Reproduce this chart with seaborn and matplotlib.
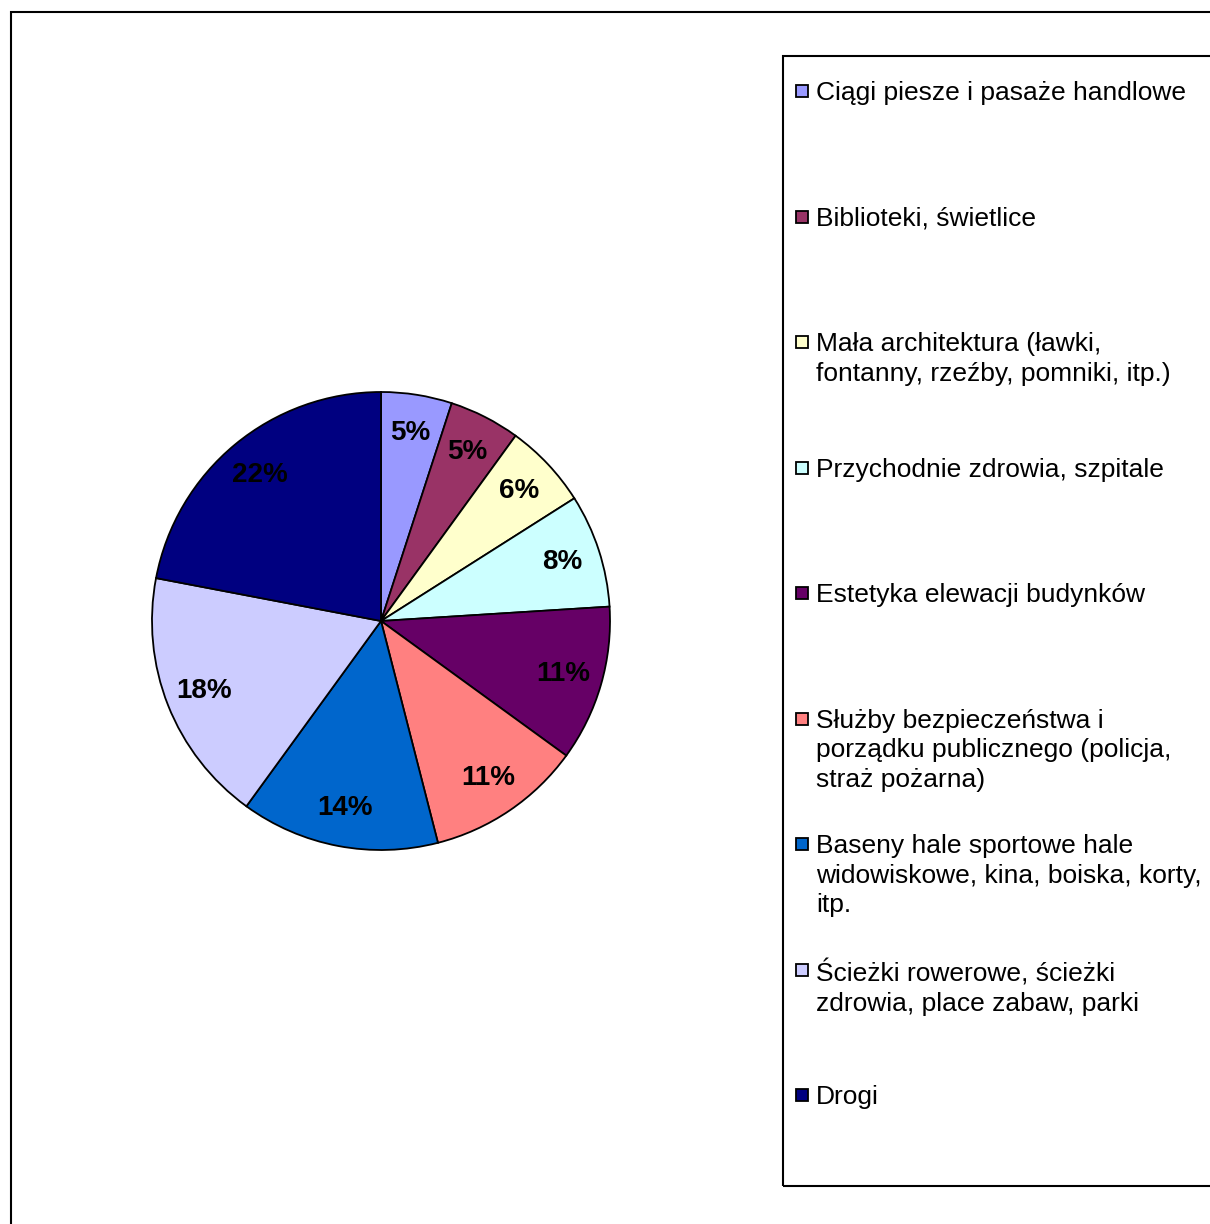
import matplotlib
matplotlib.use("Agg")
import matplotlib.pyplot as plt
from matplotlib.patches import Rectangle
import seaborn as sns

categories = [
    "Ciągi piesze i pasaże handlowe",
    "Biblioteki, świetlice",
    "Mała architektura (ławki,\nfontanny, rzeźby, pomniki, itp.)",
    "Przychodnie zdrowia, szpitale",
    "Estetyka elewacji budynków",
    "Służby bezpieczeństwa i\nporządku publicznego (policja,\nstraż pożarna)",
    "Baseny hale sportowe hale\nwidowiskowe, kina, boiska, korty,\nitp.",
    "Ścieżki rowerowe, ścieżki\nzdrowia, place zabaw, parki",
    "Drogi",
]
shares = [5, 5, 6, 8, 11, 11, 14, 18, 22]
colors = ["#9999FF", "#993366", "#FFFFCC", "#CCFFFF", "#660066",
          "#FF8080", "#0066CC", "#CCCCFF", "#000080"]

sns.set_theme(style="white")
plt.rcParams["font.family"] = ["Liberation Sans", "DejaVu Sans"]

W, H = 1210, 1224
fig = plt.figure(figsize=(W / 100, H / 100), dpi=100)
fig.patch.set_facecolor("white")

def fx(px):
    return px / W

def fy(py):
    return 1 - py / H

# pie axes: centre (381, 621), radius ~229 px
cx, cy, r = 381, 621, 229
ax = fig.add_axes([fx(cx - r), fy(cy + r), 2 * r / W, 2 * r / H])
wedges, _, autotexts = ax.pie(
    shares,
    colors=colors,
    startangle=90,
    counterclock=False,
    radius=1,
    autopct=lambda p: f"{p:.0f}%",
    pctdistance=0.83,
    wedgeprops=dict(edgecolor="black", linewidth=1.3, clip_on=False),
    textprops=dict(fontsize=20, fontweight="bold", color="black"),
)
ax.set_xlim(-1, 1)
ax.set_ylim(-1, 1)
ax.set_aspect("equal")
ax.axis("off")

# outer chart frame
fig.add_artist(Rectangle((fx(11), fy(1300)), fx(1300), (1300 - 12) / H,
                         transform=fig.transFigure, fill=False,
                         edgecolor="black", linewidth=1.5, clip_on=False))

# legend frame
fig.add_artist(Rectangle((fx(783), fy(1186)), fx(600), (1186 - 56) / H,
                         transform=fig.transFigure, fill=False,
                         edgecolor="black", linewidth=1.5, clip_on=False))

# legend entries
y0, step = 91, 125.5
for i, (lab, col) in enumerate(zip(categories, colors)):
    yc = y0 + i * step
    fig.add_artist(Rectangle((fx(796), fy(yc + 6)), fx(12), 12 / H,
                             transform=fig.transFigure, facecolor=col,
                             edgecolor="black", linewidth=1.3))
    fig.text(fx(816), fy(yc - 10), lab, ha="left", va="top",
             fontsize=19, color="black", linespacing=1.29)

fig.savefig("out.png", dpi=100, facecolor="white")
